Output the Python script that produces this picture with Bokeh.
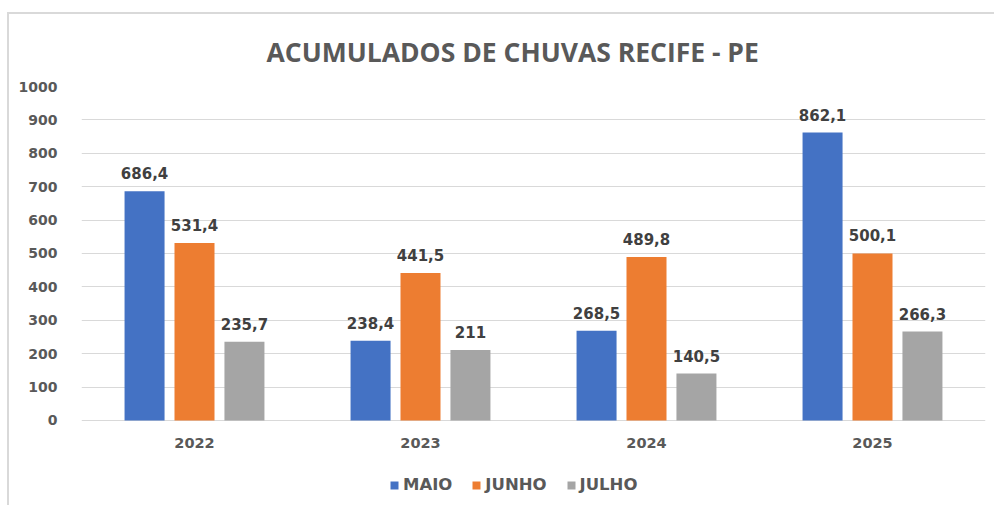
from bokeh.plotting import figure
from bokeh.models import (ColumnDataSource, FactorRange, LabelSet, Legend, LegendItem,
                          FixedTicker, Range1d)
from bokeh.transform import dodge
from bokeh.core.properties import value
from bokeh.embed import file_html
from bokeh.resources import INLINE

years = ["2022", "2023", "2024", "2025"]
maio = [686.4, 238.4, 268.5, 862.1]
junho = [531.4, 441.5, 489.8, 500.1]
julho = [235.7, 211, 140.5, 266.3]
series_names = ["MAIO", "JUNHO", "JULHO"]
colors = ["#4472C4", "#ED7D31", "#A5A5A5"]
y_ticks = [0, 100, 200, 300, 400, 500, 600, 700, 800, 900, 1000]

def fmt(v):
    return f"{v:g}".replace(".", ",")

W, H = 987, 493
p = figure(width=W, height=H, x_range=FactorRange(*years, range_padding=0),
           y_range=Range1d(-260.5, 1000), output_backend="svg", toolbar_location=None,
           min_border_left=72, min_border_right=11, min_border_top=72, min_border_bottom=0,
           margin=(12, 0, 0, 7),
           styles={"border-left": "2px solid #d9d9d9", "border-top": "2px solid #d9d9d9"})
p.outline_line_color = None
p.background_fill_color = "white"
p.border_fill_color = "white"

p.title.text = "ACUMULADOS DE CHUVAS RECIFE - PE"
p.title.align = "left"
p.title.offset = 185
p.title.text_font = "Open Sans"
p.title.text_font_style = "bold"
p.title.text_font_size = "26.5px"
p.title.text_color = "#595959"
p.title.standoff = 34

offsets = [-0.221, 0.0, 0.221]
renderers = []
for name, vals, col, off in zip(series_names, [maio, junho, julho], colors, offsets):
    src = ColumnDataSource(dict(x=years, y=vals, lab=[fmt(v) for v in vals]))
    r = p.vbar(x=dodge("x", off, range=p.x_range), top="y", width=0.177, source=src,
               fill_color=col, line_color=None)
    renderers.append((name, r))
    p.add_layout(LabelSet(x=dodge("x", off, range=p.x_range), y="y", text="lab", source=src,
                          text_align="center", text_baseline="middle", y_offset=18,
                          text_font=value("DejaVu Sans"), text_font_style="bold",
                          text_font_size="15px", text_color="#404040"))

# category labels under the baseline
cat_src = ColumnDataSource(dict(x=years, y=[0] * len(years), lab=years))
p.add_layout(LabelSet(x="x", y="y", text="lab", source=cat_src, text_align="center",
                      text_baseline="middle", y_offset=-23,
                      text_font=value("DejaVu Sans"), text_font_style="bold",
                      text_font_size="14.5px", text_color="#595959"))

# axes
p.yaxis.ticker = FixedTicker(ticks=y_ticks)
p.yaxis.axis_line_color = None
p.yaxis.major_tick_line_color = None
p.yaxis.minor_tick_line_color = None
p.yaxis.major_label_text_font = "DejaVu Sans"
p.yaxis.major_label_text_font_style = "bold"
p.yaxis.major_label_text_font_size = "14px"
p.yaxis.major_label_text_color = "#595959"
p.yaxis.major_label_standoff = 18
p.xaxis.visible = False

p.xgrid.grid_line_color = None
p.ygrid.grid_line_color = "#d9d9d9"
p.ygrid.grid_line_width = 1

legend = Legend(items=[LegendItem(label=n, renderers=[r]) for n, r in renderers],
                orientation="horizontal", location=(308, 13),
                glyph_width=10, glyph_height=10, label_standoff=4, spacing=19,
                padding=0, margin=0, border_line_color=None, background_fill_alpha=0,
                label_text_font="DejaVu Sans", label_text_font_style="bold",
                label_text_font_size="16.5px", label_text_color="#595959")
p.add_layout(legend, "center")

open("out.html", "w").write(file_html(p, INLINE))
